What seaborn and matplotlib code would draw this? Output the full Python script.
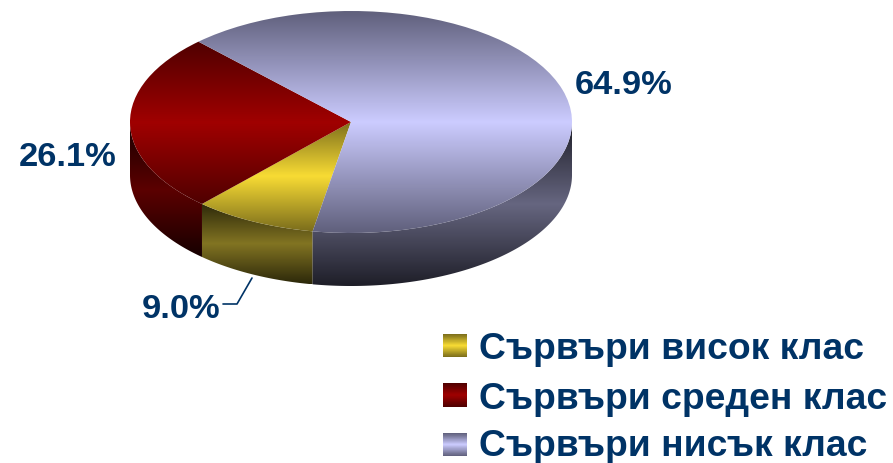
import numpy as np
import matplotlib
matplotlib.use('Agg')
import matplotlib.pyplot as plt
from matplotlib.patches import Polygon
import seaborn as sns

# Data
labels = ['Сървъри висок клас', 'Сървъри среден клас', 'Сървъри нисък клас']
values = [9.0, 26.1, 64.9]

# top colours (edge, middle) and wall colours (edge, middle) per slice
top_colors = [('#7c6e1c', '#f8dc34'), ('#4f0000', '#a00000'), ('#60607c', '#ccccff')]
wall_colors = [('#2c280a', '#827422'), ('#160000', '#5c0000'), ('#1e1e28', '#666680')]

sns.set_theme(style='white')
plt.rcParams['font.family'] = ['Liberation Sans', 'DejaVu Sans']
navy = '#003366'

W, H = 893, 464
DEPTH = 53 / 111

fig = plt.figure(figsize=(W / 100, H / 100), dpi=100)
ax = fig.add_axes([130 / W, (H - 287) / H, 442 / W, 275 / H])


def blend(c):
    return sns.blend_palette([c[0], c[1], c[0]], 256, as_cmap=True)


def fill_gradient(patch, c, y0, y1):
    x0, x1 = -1.05, 1.05
    im = ax.imshow(np.linspace(0, 1, 256).reshape(-1, 1), cmap=blend(c), aspect='auto',
                   extent=[x0, x1, y0, y1], interpolation='bilinear')
    im.set_clip_path(patch)
    return im


wedges, _ = ax.pie(values, startangle=260, counterclock=False, radius=1, center=(0, 0))
ax.set_aspect('auto')

for w, top, wall in zip(wedges, top_colors, wall_colors):
    # side wall, only the front half of the ellipse shows
    for lo, hi in [(-180, 0), (180, 360)]:
        a, b = max(w.theta1, lo), min(w.theta2, hi)
        if b <= a:
            continue
        t = np.radians(np.linspace(a, b, 200))
        xs, ys = np.cos(t), np.sin(t)
        pts = np.r_[np.c_[xs, ys], np.c_[xs[::-1], ys[::-1] - DEPTH]]
        side = Polygon(pts, closed=True, facecolor='none', edgecolor='none')
        ax.add_patch(side)
        side.set_zorder(1)
        im = fill_gradient(side, wall, pts[:, 1].min(), pts[:, 1].max())
        im.set_zorder(1)
    # top face
    t = np.radians(np.linspace(w.theta1, w.theta2, 200))
    ys = np.r_[np.sin(t), 0]
    w.set_facecolor('none')
    w.set_edgecolor('none')
    w.set_zorder(2)
    im = fill_gradient(w, top, ys.min(), ys.max())
    im.set_zorder(2)

ax.set_xlim(-1, 1)
ax.set_ylim(-1 - DEPTH, 1)
ax.axis('off')
ax.patch.set_visible(False)

# overlay in pixel units for labels and legend
ov = fig.add_axes([0, 0, 1, 1])
ov.set_xlim(0, W)
ov.set_ylim(H, 0)
ov.axis('off')
ov.patch.set_visible(False)

pct_pos = [(220, 318, 'right'), (116, 166, 'right'), (575, 94, 'left')]
for v, (x, y, ha) in zip(values, pct_pos):
    ov.text(x, y, f'{v:.1f}%', color=navy, fontsize=24.8, fontweight='bold', ha=ha, va='baseline')
ov.plot([252, 237, 223], [279, 305, 305], color=navy, lw=1.2)

rows = [(335, 358, 359), (384, 408, 409), (434, 457, 456)]
for lab, c, (y0, y1, base) in zip(labels, top_colors, rows):
    ov.imshow(np.linspace(0, 1, 64).reshape(-1, 1), cmap=blend(c), aspect='auto',
              extent=[443, 467, y1, y0], interpolation='nearest')
    ov.text(479, base, lab, color=navy, fontsize=26.8, fontweight='bold', ha='left', va='baseline')
ov.set_xlim(0, W)
ov.set_ylim(H, 0)

fig.savefig('out.png', dpi=100)
